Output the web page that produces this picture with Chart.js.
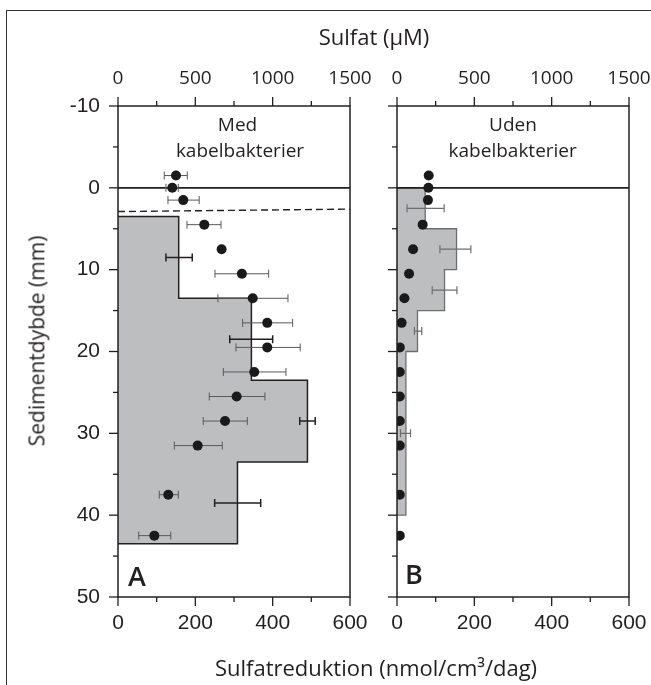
<!DOCTYPE html>
<html>
<head>
<meta charset="utf-8">
<script src="https://cdn.jsdelivr.net/npm/chart.js@4.4.1/dist/chart.umd.min.js"></script>
<style>
  html, body { margin: 0; padding: 0; background: #fff; }
  #fig { position: relative; width: 651px; height: 685px; overflow: hidden; font-family: 'Open Sans', sans-serif; color: #231f20; }
  #frame { position: absolute; left: 6px; top: 10px; width: 700px; height: 700px; border-left: 1.5px solid #333; border-top: 1.5px solid #333; }
  canvas { position: absolute; top: 0; }
  #chartA { left: 0; }
  #chartB { left: 380px; }
  .t { position: absolute; white-space: nowrap; line-height: 1; transform-origin: 0 0; }
</style>
</head>
<body>
<div id="fig">
  <div id="frame"></div>
  <canvas id="chartA" width="380" height="685"></canvas>
  <canvas id="chartB" width="271" height="685"></canvas>
</div>
<script>
// sulfat (top axis, µM), samme dybder i begge kerner
const dotDepth  = [-1.5, 0, 1.5, 4.5, 7.5, 10.5, 13.5, 16.5, 19.5, 22.5, 25.5, 28.5, 31.5, 37.5, 42.5];
const sulfatA   = [375, 351, 422, 558, 670, 801, 871, 965, 965, 881, 767, 692, 515, 325, 235];
const sulfatLoA = [299, 310, 323, 446, null, 627, 646, 806, 763, 681, 590, 551, 364, 267, 134];
const sulfatHiA = [448, 390, 525, 666, null, 974, 1099, 1129, 1178, 1086, 950, 836, 674, 390, 341];
const sulfatB   = [205, 203, 200, 166, 104, 78, 48, 30, 18, 18, 18, 18, 18, 18, 18];

// sulfatreduktion (bottom axis), lag-graenser og rater
const layerA    = [3.5, 13.5, 23.5, 33.5, 43.5];
const rateA     = [157, 345, 490, 309];
const rateMidA  = [8.5, 18.5, 28.5, 38.5];
const rateLoA   = [124, 289, 470, 250];
const rateHiA   = [192, 400, 510, 369];

const layerB    = [0, 5, 10, 15, 20, 40];
const rateB     = [73, 154, 123, 53, 23];
const rateMidB  = [2.5, 7.5, 12.5, 17.5, 30];
const rateLoB   = [26, 111, 91, 45, 9];
const rateHiB   = [122, 191, 155, 64, 35];

const frontA = [2.9, 2.6];          // stiplet linje (dybde ved 0 og 600)
const depthRange  = [-10, 50];
const rateRange   = [0, 600];
const sulfatRange = [0, 1500];
const minorStep = { y: 5, x: 100, xTop: 250 };
const majorStep = { y: 10, x: 200, xTop: 500 };

const ink = '#231f20';

function stepProfile(edges, rates) {
    const pts = [{ x: 0, y: edges[0] }];
    rates.forEach((r, i) => {
        pts.push({ x: r, y: edges[i] });
        pts.push({ x: r, y: edges[i + 1] });
    });
    pts.push({ x: 0, y: edges[edges.length - 1] });
    return pts;
}

const errorBars = {
    id: 'errorBars',
    beforeDatasetDraw(chart, args) {
        const ds = chart.data.datasets[args.index];
        if (!ds.errLo) return;
        const ctx = chart.ctx;
        const xs = chart.scales[ds.xAxisID], ys = chart.scales.y;
        ctx.save();
        ctx.strokeStyle = ds.errColor;
        ctx.lineWidth = ds.errWidth;
        ds.data.forEach((p, i) => {
            if (ds.errLo[i] == null) return;
            const y = ys.getPixelForValue(p.y);
            const x1 = xs.getPixelForValue(ds.errLo[i]);
            const x2 = xs.getPixelForValue(ds.errHi[i]);
            ctx.beginPath();
            ctx.moveTo(x1, y); ctx.lineTo(x2, y);
            ctx.moveTo(x1, y - 4); ctx.lineTo(x1, y + 4);
            ctx.moveTo(x2, y - 4); ctx.lineTo(x2, y + 4);
            ctx.stroke();
        });
        ctx.restore();
    }
};

const tickMarks = {
    id: 'tickMarks',
    afterDraw(chart) {
        const { ctx, chartArea: a, scales } = chart;
        ctx.save();
        ctx.strokeStyle = ink;
        ctx.lineWidth = 1.3;
        for (const id of Object.keys(scales)) {
            const s = scales[id];
            s.ticks.forEach(t => {
                const p = s.getPixelForValue(t.value);
                const len = t.value % majorStep[id] === 0 ? 9 : 5;
                ctx.beginPath();
                if (id === 'y') { ctx.moveTo(a.left - len, p); ctx.lineTo(a.left, p); }
                else if (id === 'xTop') { ctx.moveTo(p, a.top - len); ctx.lineTo(p, a.top); }
                else { ctx.moveTo(p, a.bottom); ctx.lineTo(p, a.bottom + len); }
                ctx.stroke();
            });
        }
        ctx.lineWidth = 1.5;
        ctx.strokeRect(a.left, a.top, a.right - a.left, a.bottom - a.top);
        ctx.restore();
    }
};

function axisLabel(id) {
    return v => (v % majorStep[id] === 0 ? v : '');
}

function makePanel(canvasId, p) {
    const tickFont = { family: "'Liberation Sans', Arial, sans-serif", size: 21 };
    const hidden = 'rgba(0,0,0,0)';
    const datasets = [
        {
            data: dotDepth.map((d, i) => ({ x: p.sulfat[i], y: d })),
            xAxisID: 'xTop', yAxisID: 'y',
            showLine: false, pointRadius: 5, pointBorderWidth: 0,
            pointBackgroundColor: '#1a1a1a',
            clip: { left: 0, top: false, right: false, bottom: false },
            errLo: p.sulfatLo, errHi: p.sulfatHi, errColor: '#58595b', errWidth: 1
        },
        {
            data: [{ x: rateRange[0], y: 0 }, { x: rateRange[1], y: 0 }],
            xAxisID: 'x', yAxisID: 'y',
            borderColor: ink, borderWidth: 1.6, pointRadius: 0
        }
    ];
    if (p.front) {
        datasets.push({
            data: [{ x: rateRange[0], y: p.front[0] }, { x: rateRange[1], y: p.front[1] }],
            xAxisID: 'x', yAxisID: 'y',
            borderColor: ink, borderWidth: 1.4, borderDash: [7, 4], pointRadius: 0
        });
    }
    datasets.push({
        data: p.rateMid.map((d, i) => ({ x: p.rate[i], y: d })),
        xAxisID: 'x', yAxisID: 'y',
        showLine: false, pointRadius: 0,
        errLo: p.rateLo, errHi: p.rateHi, errColor: p.errColor, errWidth: p.errWidth
    });
    datasets.push({
        data: stepProfile(p.layers, p.rate),
        xAxisID: 'x', yAxisID: 'y', indexAxis: 'y',
        borderColor: p.outline, borderWidth: p.outlineWidth,
        backgroundColor: '#bcbec0', fill: 'origin', pointRadius: 0
    });

    const fitX = h => s => { s.height = h; s.paddingLeft = 0; s.paddingRight = 0; };

    return new Chart(document.getElementById(canvasId), {
        type: 'line',
        data: { datasets },
        plugins: [errorBars, tickMarks],
        options: {
            responsive: false,
            animation: false,
            layout: { padding: { left: 0, top: 0, right: p.padRight, bottom: 0 } },
            plugins: { legend: { display: false }, tooltip: { enabled: false } },
            scales: {
                x: {
                    type: 'linear', position: 'bottom',
                    min: rateRange[0], max: rateRange[1],
                    grid: { drawOnChartArea: false, color: hidden, tickLength: 8 },
                    border: { display: false },
                    ticks: { stepSize: minorStep.x, autoSkip: false, maxRotation: 0, padding: 6,
                             color: ink, font: tickFont, callback: axisLabel('x') },
                    afterFit: fitX(88)
                },
                xTop: {
                    type: 'linear', position: 'top',
                    min: sulfatRange[0], max: sulfatRange[1],
                    grid: { drawOnChartArea: false, color: hidden, tickLength: 9 },
                    border: { display: false },
                    ticks: { stepSize: minorStep.xTop, autoSkip: false, maxRotation: 0, padding: 7,
                             color: ink, font: { family: "'Open Sans', sans-serif", size: 19 },
                             callback: axisLabel('xTop') },
                    afterFit: fitX(106)
                },
                y: {
                    type: 'linear', reverse: true,
                    min: depthRange[0], max: depthRange[1],
                    grid: { drawOnChartArea: false, color: hidden, tickLength: 10 },
                    border: { display: false },
                    ticks: { stepSize: minorStep.y, autoSkip: false, padding: 8, display: p.yLabels,
                             color: ink, font: tickFont, callback: axisLabel('y') },
                    afterFit: s => { s.width = p.yWidth; s.paddingTop = 0; s.paddingBottom = 0; }
                }
            }
        }
    });
}

makePanel('chartA', {
    sulfat: sulfatA, sulfatLo: sulfatLoA, sulfatHi: sulfatHiA,
    layers: layerA, rate: rateA, rateMid: rateMidA, rateLo: rateLoA, rateHi: rateHiA,
    front: frontA, errColor: '#231f20', errWidth: 1.5,
    outline: '#231f20', outlineWidth: 1.5,
    yLabels: true, yWidth: 118, padRight: 30
});

makePanel('chartB', {
    sulfat: sulfatB, sulfatLo: null, sulfatHi: null,
    layers: layerB, rate: rateB, rateMid: rateMidB, rateLo: rateLoB, rateHi: rateHiB,
    front: null, errColor: '#6d6e71', errWidth: 1.2,
    outline: '#6d6e71', outlineWidth: 1.3,
    yLabels: false, yWidth: 17, padRight: 22
});

// tekster oven paa figuren
function text(str, x, base, size, opts = {}) {
    const el = document.createElement('div');
    el.className = 't';
    el.textContent = str;
    el.style.fontSize = size + 'px';
    el.style.left = x + 'px';
    el.style.top = base + 'px';
    if (opts.weight) el.style.fontWeight = opts.weight;
    const shiftX = opts.left ? '0' : '-50%';
    const lift = (-0.888 * size).toFixed(1) + 'px';
    el.style.transform = (opts.rotate ? 'rotate(-90deg) ' : '') + `translate(${shiftX}, ${lift})`;
    document.getElementById('fig').appendChild(el);
}

text('Sulfat (µM)', 374, 43.5, 22);
text('Sulfatreduktion (nmol/cm³/dag)', 376, 674.5, 22);
text('Sedimentdybde (mm)', 45, 340.5, 21, { rotate: true });
text('Med', 237.5, 132, 19);
text('kabelbakterier', 240, 158, 19);
text('Uden', 513, 132, 19);
text('kabelbakterier', 512.7, 158, 19);
text('A', 128, 586, 27, { left: true, weight: 600 });
text('B', 405, 584, 27, { left: true, weight: 600 });
</script>
</body>
</html>
